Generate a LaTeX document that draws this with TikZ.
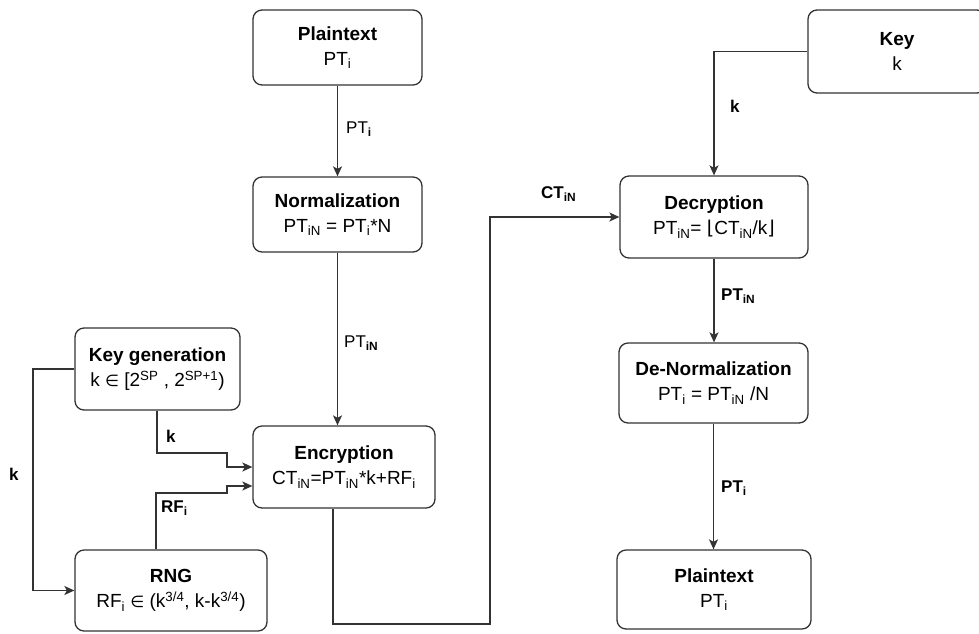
\documentclass[tikz,border=0pt]{standalone}
\usepackage{fontspec}
\setmainfont{Liberation Sans}
\newfontfamily\dvs{DejaVu Sans}
\usetikzlibrary{arrows.meta}
\newcommand{\sbs}[1]{\textsubscript{#1}}
\newcommand{\sps}[1]{\textsuperscript{#1}}
\newcommand{\elt}{{\dvs\fontsize{16}{20}\selectfont ∈}}
\begin{document}
\begin{tikzpicture}[x=1pt,y=-1pt,
  box/.style={draw=black!80, line width=1.3pt, rounded corners=9pt, align=center,
    font=\fontsize{19}{25}\selectfont, inner sep=0pt},
  conn/.style={draw=black!80, line width=1.3pt, -{Stealth[length=10pt,width=9pt,inset=2.5pt]}},
  lbl/.style={font=\fontsize{17}{19}\selectfont, inner sep=0pt, anchor=west}]
\useasboundingbox (0,0) rectangle (979,633);

% boxes
\node[box, minimum width=169pt, minimum height=75pt] (pt1) at (337.5,47.5) {\textbf{Plaintext}\\PT\sbs{i}};
\node[box, minimum width=169pt, minimum height=75pt] (norm) at (337.5,214.5) {\textbf{Normalization}\\PT\sbs{iN} = PT\sbs{i}*N};
\node[box, minimum width=165pt, minimum height=82pt] (kg) at (157.5,369) {\textbf{Key generation}\\k \elt{} [2\sps{SP} , 2\sps{SP+1})};
\node[box, minimum width=182pt, minimum height=82pt] (enc) at (344,467) {\textbf{Encryption}\\CT\sbs{iN}=PT\sbs{iN}*k+RF\sbs{i}};
\node[box, minimum width=192pt, minimum height=81pt] (rng) at (171,590.5) {\textbf{RNG}\\RF\sbs{i} \elt{} (k\sps{3/4}, k-k\sps{3/4})};
\node[box, minimum width=178pt, minimum height=83pt] (key) at (897,51.5) {\textbf{Key}\\k};
\node[box, minimum width=188pt, minimum height=82pt] (dec) at (714,217) {\textbf{Decryption}\\PT\sbs{iN}= {\dvs ⌊}CT\sbs{iN}/k{\dvs ⌋}};
\node[box, minimum width=189pt, minimum height=80pt] (den) at (713.5,383) {\textbf{De-Normalization}\\PT\sbs{i} = PT\sbs{iN} /N};
\node[box, minimum width=194pt, minimum height=79pt] (pt2) at (714,589.5) {\textbf{Plaintext}\\PT\sbs{i}};

% helper coordinates
\coordinate (kx) at (157,453);
\coordinate (mx) at (227,467);
\coordinate (rx) at (156,493);
\coordinate (my) at (227,486);
\coordinate (ex) at (333,624);
\coordinate (cx) at (490,624);
\coordinate (lx) at (33,369);

% connectors
\draw[conn] (pt1.south) -- (norm.north);
\draw[conn] (norm.south) -- (norm.south |- enc.north);
\draw[conn] (kg.south -| kx) -- (kx) -- (kx -| mx) -- (mx) -- (enc.west |- mx);
\draw[conn] (rng.north -| rx) -- (rx) -- (rx -| my) -- (my) -- (enc.west |- my);
\draw[conn] (kg.west) -- (lx) |- (rng.west);
\draw[conn] (enc.south -| ex) -- (ex) -- (cx) |- (dec.west);
\draw[conn] (key.west) -| (dec.north);
\draw[conn] (dec.south) -- (dec.south |- den.north);
\draw[conn] (den.south) -- (den.south |- pt2.north);

% labels
\node[lbl] (l1) at (346,129) {PT\sbs{\textbf{i}}};
\node[lbl] (l2) at (344,343) {PT\sbs{\textbf{iN}}};
\node[lbl] (l3) at (166,436) {\textbf{k}};
\node[lbl] (l4) at (161,508) {\textbf{RF\sbs{i}}};
\node[lbl] (l5) at (9,474) {\textbf{k}};
\node[lbl] (l6) at (541,194) {\textbf{CT\sbs{iN}}};
\node[lbl] (l7) at (730,106) {\textbf{k}};
\node[lbl] (l8) at (721,296) {\textbf{PT\sbs{iN}}};
\node[lbl] (l9) at (721,488) {\textbf{PT\sbs{i}}};
\end{tikzpicture}
\end{document}
